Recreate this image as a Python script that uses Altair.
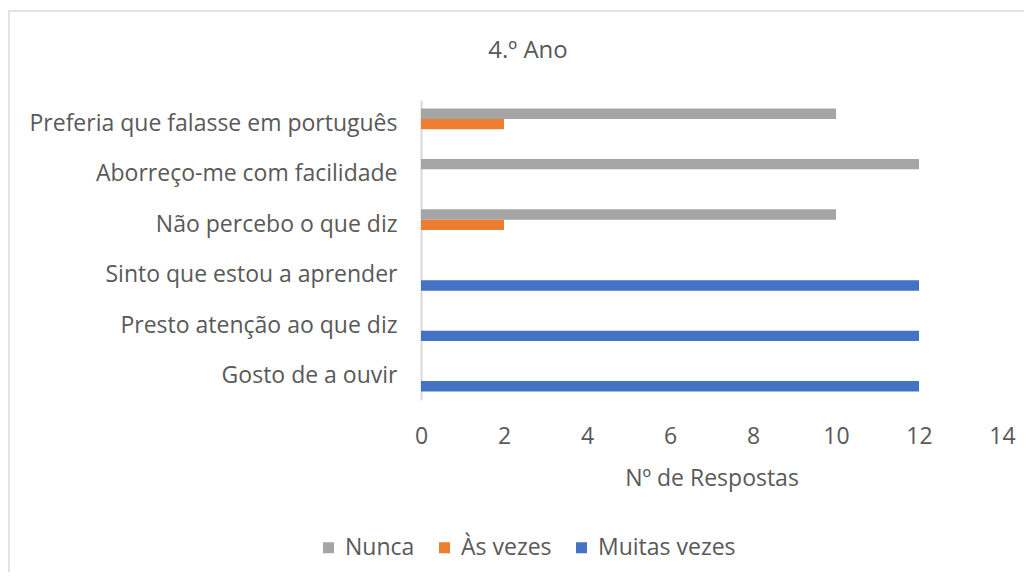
import altair as alt
import pandas as pd

categories = [
    "Preferia que falasse em português",
    "Aborreço-me com facilidade",
    "Não percebo o que diz",
    "Sinto que estou a aprender",
    "Presto atenção ao que diz",
    "Gosto de a ouvir",
]
series = ["Nunca", "Às vezes", "Muitas vezes"]
nunca = [10, 12, 10, 0, 0, 0]
as_vezes = [2, 0, 2, 0, 0, 0]
muitas_vezes = [0, 0, 0, 12, 12, 12]
colors = ["#A5A5A5", "#ED7D31", "#4472C4"]
title_text = "4.º Ano"

rows = []
for i, c in enumerate(categories):
    for s, vals in zip(series, [nunca, as_vezes, muitas_vezes]):
        rows.append({"cat": c, "serie": s, "val": vals[i]})
df = pd.DataFrame(rows)

FONT = "Open Sans"
TXT = "#595959"
FS = 23

bars = alt.Chart(df).mark_bar().encode(
    x=alt.X("val:Q", scale=alt.Scale(domain=[0, 14]),
            axis=alt.Axis(values=list(range(0, 15, 2)), title="Nº de Respostas",
                          domain=False, ticks=False, grid=False, labelFlush=False,
                          labelFontSize=FS, labelColor=TXT, labelPadding=25,
                          titleFontSize=FS, titleColor=TXT, titleFontWeight="normal",
                          titlePadding=19, labelFont=FONT, titleFont=FONT)),
    y=alt.Y("cat:N", sort=categories, title=None,
            scale=alt.Scale(paddingInner=0.38, paddingOuter=0.17),
            axis=alt.Axis(domain=True, domainColor="#d9d9d9", domainWidth=2,
                          ticks=False, grid=False, labelFontSize=FS, labelColor=TXT,
                          labelPadding=24, labelFont=FONT, labelLimit=500)),
    yOffset=alt.YOffset("serie:N", sort=series, scale=alt.Scale(paddingInner=0, paddingOuter=0)),
    color=alt.Color("serie:N", sort=series,
                    scale=alt.Scale(domain=series, range=colors),
                    legend=alt.Legend(title=None, orient="none", direction="horizontal",
                                      legendX=-104, legendY=436,
                                      symbolType="square", symbolSize=121,
                                      symbolStrokeWidth=0,
                                      labelFontSize=FS, labelColor=TXT, labelFont=FONT,
                                      columnPadding=18, labelOffset=5)),
)

border = alt.Chart(alt.Data(values=[{}])).mark_rect(
    fill=None, stroke="#d9d9d9", strokeWidth=1.5
).encode(
    x=alt.value(-412), x2=alt.value(700), y=alt.value(-89), y2=alt.value(600)
)

title = alt.Chart(alt.Data(values=[{"t": title_text}])).mark_text(
    font=FONT, fontSize=24, color=TXT, align="center", baseline="middle"
).encode(
    text="t:N", x=alt.value(107), y=alt.value(-49)
)

chart = alt.layer(border, bars, title).properties(
    width=581, height=300,
    autosize=alt.AutoSizeParams(type="none"),
    padding={"left": 413, "top": 92, "right": 22, "bottom": 172},
    background="white",
).configure_view(stroke=None)

chart.save("out.html", embed_options={"renderer": "svg", "actions": False})
